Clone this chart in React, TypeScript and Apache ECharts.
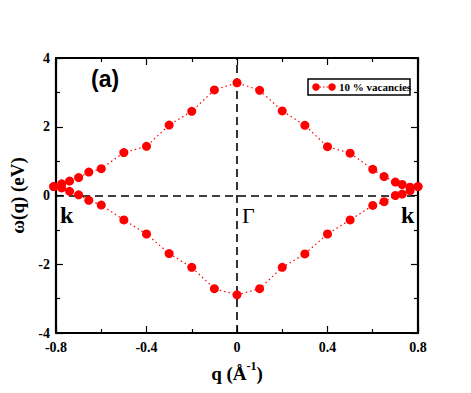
import React, { useEffect, useRef } from "react";
import * as echarts from "echarts";

const qValues = [-0.81, -0.775, -0.74, -0.7, -0.655, -0.6, -0.5, -0.4, -0.3, -0.2, -0.1, 0, 0.1, 0.2, 0.3, 0.4, 0.5, 0.6, 0.65, 0.7, 0.73, 0.765, 0.8];
const upperBranch = [0.26, 0.34, 0.42, 0.52, 0.68, 0.78, 1.25, 1.43, 2.05, 2.45, 3.07, 3.28, 3.06, 2.46, 2.04, 1.42, 1.23, 0.76, 0.55, 0.39, 0.32, 0.24, 0.26];
const lowerBranch = [0.26, 0.22, 0.12, 0.02, -0.14, -0.28, -0.71, -1.12, -1.69, -2.09, -2.71, -2.89, -2.71, -2.09, -1.7, -1.12, -0.71, -0.29, -0.18, 0.0, 0.04, 0.14, 0.26];
const xTickLabels = ["-0.8", "-0.4", "0", "0.4", "0.8"];
const yTickLabels = ["-4", "-2", "0", "2", "4"];
const seriesName = "10 % vacancies";

const SERIF = "'Liberation Serif', 'Times New Roman', serif";
const SANS = "'Liberation Sans', Arial, sans-serif";

export default function App() {
  const ref = useRef<HTMLDivElement>(null);
  useEffect(() => {
    if (!ref.current) return;
    const chart = echarts.init(ref.current, null, { renderer: "svg" });
    const upper = qValues.map((q, i) => [q, upperBranch[i]]);
    const lower = qValues.map((q, i) => [q, lowerBranch[i]]);
    const xFmt = (v: number) => {
      const idx = Math.round((v + 0.8) / 0.4);
      return xTickLabels[idx] ?? "";
    };
    const yFmt = (v: number) => {
      const idx = Math.round((v + 4) / 2);
      return yTickLabels[idx] ?? "";
    };
    const axisCommon = {
      type: "value",
      axisLine: { show: true, onZero: false, lineStyle: { color: "#000", width: 2.2 } },
      axisTick: { show: true, inside: true, length: 7, lineStyle: { color: "#000", width: 1.2 } },
      minorTick: { show: true, splitNumber: 2, length: 4, lineStyle: { color: "#000", width: 1.2 } },
      splitLine: { show: false },
      minorSplitLine: { show: false },
    };
    const seriesCommon = {
      type: "line",
      name: seriesName,
      symbol: "circle",
      symbolSize: 9,
      clip: false,
      itemStyle: { color: "#ff0000" },
      lineStyle: { color: "#ff0000", width: 1.2, type: [1.5, 3] },
      z: 5,
    };
    chart.setOption({
      animation: false,
      backgroundColor: "#fff",
      grid: { left: 56, right: 53, top: 58, bottom: 60 },
      xAxis: [
        {
          ...axisCommon,
          min: -0.8,
          max: 0.8,
          interval: 0.4,
          position: "bottom",
          axisLabel: { show: true, formatter: xFmt, color: "#000", fontFamily: SERIF, fontWeight: "bold", fontSize: 14, margin: 7 },
          name: "q (Å{s|-1})",
          nameLocation: "middle",
          nameGap: 27,
          nameTextStyle: {
            color: "#000", fontFamily: SERIF, fontWeight: "bold", fontSize: 19,
            rich: { s: { fontFamily: SERIF, fontWeight: "bold", fontSize: 12, color: "#000", verticalAlign: "top", padding: [0, 0, 14, 0] } },
          },
        },
        {
          ...axisCommon,
          min: -0.8,
          max: 0.8,
          interval: 0.4,
          position: "top",
          axisLabel: { show: false },
        },
      ],
      yAxis: [
        {
          ...axisCommon,
          min: -4,
          max: 4,
          interval: 2,
          position: "left",
          axisLabel: { show: true, formatter: yFmt, color: "#000", fontFamily: SERIF, fontWeight: "bold", fontSize: 14, margin: 6 },
          name: "ω(q) (eV)",
          nameLocation: "middle",
          nameGap: 29,
          nameTextStyle: { color: "#000", fontFamily: SERIF, fontWeight: "bold", fontSize: 19 },
        },
        {
          ...axisCommon,
          min: -4,
          max: 4,
          interval: 2,
          position: "right",
          axisLabel: { show: false },
        },
      ],
      series: [
        {
          ...seriesCommon,
          data: upper,
          markLine: {
            silent: true,
            symbol: ["none", "none"],
            label: { show: false },
            lineStyle: { color: "#000", width: 1.6, type: [8, 5] },
            data: [{ xAxis: 0 }, { yAxis: 0 }],
            z: 1,
          },
        },
        { ...seriesCommon, data: lower },
      ],
      graphic: [
        { type: "text", left: 91, top: 67, style: { text: "(a)", font: `bold 23px ${SANS}`, fill: "#000" } },
        { type: "text", x: 60, y: 203, style: { text: "k", font: `bold 24px ${SERIF}`, fill: "#000" } },
        { type: "text", x: 242, y: 204, style: { text: "Γ", font: `22px ${SERIF}`, fill: "#000" } },
        { type: "text", x: 401, y: 203, style: { text: "k", font: `bold 24px ${SERIF}`, fill: "#000" } },
        {
          type: "group",
          x: 308,
          y: 79,
          children: [
            { type: "rect", shape: { x: 0, y: 0, width: 102, height: 16 }, style: { fill: "#fff", stroke: "#000", lineWidth: 1.5 } },
            { type: "line", shape: { x1: 8, y1: 8, x2: 24, y2: 8 }, style: { stroke: "#ff0000", lineWidth: 1.2, lineDash: [1.5, 2] } },
            { type: "circle", shape: { cx: 8, cy: 8, r: 3.8 }, style: { fill: "#ff0000" } },
            { type: "circle", shape: { cx: 24, cy: 8, r: 3.8 }, style: { fill: "#ff0000" } },
            { type: "text", x: 31, y: 8, style: { text: seriesName, font: `bold 11px ${SERIF}`, fill: "#000", verticalAlign: "middle" } },
          ],
        },
      ],
    });
    return () => chart.dispose();
  }, []);
  return <div ref={ref} style={{ position: "fixed", left: 0, top: 0, width: 471, height: 393, background: "#fff" }} />;
}
